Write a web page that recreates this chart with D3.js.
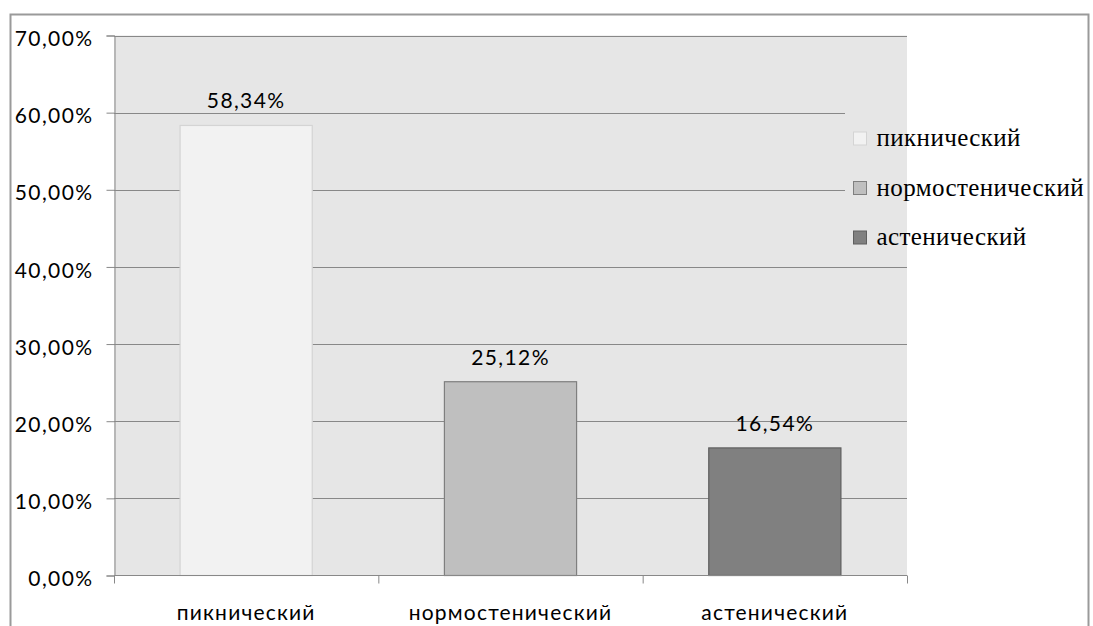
<!DOCTYPE html>
<html>
<head>
<meta charset="utf-8">
<script src="https://cdn.jsdelivr.net/npm/d3@7"></script>
<style>
  body { margin: 0; background: #fff; }
  svg { display: block; }
</style>
</head>
<body>
<svg id="chart" width="1093" height="626"></svg>
<script>
// Data
const categories = ["пикнический", "нормостенический", "астенический"];
const values = [58.34, 25.12, 16.54];
const yTicks = [0, 10, 20, 30, 40, 50, 60, 70];
const barColors = ["#f2f2f2", "#bfbfbf", "#808080"];
const barStrokes = ["#d4d4d4", "#7f7f7f", "#5f5f5f"];

const fmt = v => v.toFixed(2).replace(".", ",") + "%";
const sansFont = "Lato, 'Open Sans', sans-serif";

const svg = d3.select("#chart");
const plot = { left: 114, right: 907, top: 35.5, bottom: 575.5 };

// outer chart border
svg.append("rect")
  .attr("x", 10.5).attr("y", 14.5)
  .attr("width", 1078).attr("height", 640)
  .attr("fill", "none").attr("stroke", "#9a9a9a").attr("stroke-width", 2);

const x = d3.scaleBand()
  .domain(categories)
  .range([plot.left, plot.right])
  .paddingInner(0).paddingOuter(0);

const y = d3.scaleLinear()
  .domain([0, 70])
  .range([plot.bottom, plot.top]);

// plot area background
svg.append("rect")
  .attr("x", plot.left).attr("y", plot.top)
  .attr("width", plot.right - plot.left).attr("height", plot.bottom - plot.top)
  .attr("fill", "#e6e6e6");

// gridlines
svg.append("g")
  .selectAll("line")
  .data(yTicks.filter(d => d > 0))
  .enter().append("line")
  .attr("x1", plot.left).attr("x2", plot.right)
  .attr("y1", d => Math.round(y(d)) + 0.5).attr("y2", d => Math.round(y(d)) + 0.5)
  .attr("stroke", "#888").attr("stroke-width", 1);

// legend background (covers gridlines inside plot area)
svg.append("rect")
  .attr("x", 845).attr("y", 106)
  .attr("width", plot.right - 845).attr("height", 152)
  .attr("fill", "#e6e6e6");

// y axis
const yAxis = d3.axisLeft(y)
  .tickValues(yTicks)
  .tickSize(8)
  .tickPadding(13)
  .tickFormat(fmt);

const yg = svg.append("g")
  .attr("transform", `translate(${plot.left + 0.5},0)`)
  .call(yAxis);
yg.select(".domain").attr("stroke", "#888");
yg.selectAll(".tick line").attr("stroke", "#888");
yg.selectAll(".tick text")
  .attr("fill", "#000")
  .attr("dy", "0.48em")
  .style("font-family", sansFont)
  .style("font-size", "21px")
  .style("letter-spacing", "1.4px");

// bars
const barW = x.bandwidth() / 2;
svg.append("g")
  .selectAll("rect")
  .data(values)
  .enter().append("rect")
  .attr("x", (d, i) => x(categories[i]) + x.bandwidth() / 4)
  .attr("y", d => y(d))
  .attr("width", barW)
  .attr("height", d => y(0) - y(d))
  .attr("fill", (d, i) => barColors[i])
  .attr("stroke", (d, i) => barStrokes[i])
  .attr("stroke-width", 1.2);

// x axis
const xg = svg.append("g")
  .attr("transform", `translate(0,${plot.bottom})`);
xg.append("line")
  .attr("x1", plot.left).attr("x2", plot.right)
  .attr("y1", 0).attr("y2", 0)
  .attr("stroke", "#888");
const bounds = categories.map(c => x(c)).concat([plot.right]);
xg.selectAll("line.tick")
  .data(bounds)
  .enter().append("line")
  .attr("class", "tick")
  .attr("x1", d => d + 0.5).attr("x2", d => d + 0.5)
  .attr("y1", 0).attr("y2", 8)
  .attr("stroke", "#888");
xg.selectAll("text")
  .data(categories)
  .enter().append("text")
  .attr("x", d => x(d) + x.bandwidth() / 2)
  .attr("y", 44)
  .attr("text-anchor", "middle")
  .style("font-family", sansFont)
  .style("font-size", "21px")
  .style("letter-spacing", "1.2px")
  .text(d => d);

// data labels
svg.append("g")
  .selectAll("text")
  .data(values)
  .enter().append("text")
  .attr("x", (d, i) => x(categories[i]) + x.bandwidth() / 2)
  .attr("y", d => y(d) - 17)
  .attr("text-anchor", "middle")
  .style("font-family", sansFont)
  .style("font-size", "21px")
  .style("letter-spacing", "1.4px")
  .text(d => fmt(d));

// legend
const legend = svg.append("g")
  .attr("transform", "translate(853.5,132)");
const items = legend.selectAll("g")
  .data(categories)
  .enter().append("g")
  .attr("transform", (d, i) => `translate(0,${i * 49.5})`);
items.append("rect")
  .attr("width", 13).attr("height", 13)
  .attr("fill", (d, i) => barColors[i])
  .attr("stroke", (d, i) => barStrokes[i]);
items.append("text")
  .attr("x", 23).attr("y", 14)
  .style("font-family", "'Liberation Serif', 'DejaVu Serif', serif")
  .style("font-size", "25px")
  .style("letter-spacing", "0.4px")
  .text(d => d);
</script>
</body>
</html>
